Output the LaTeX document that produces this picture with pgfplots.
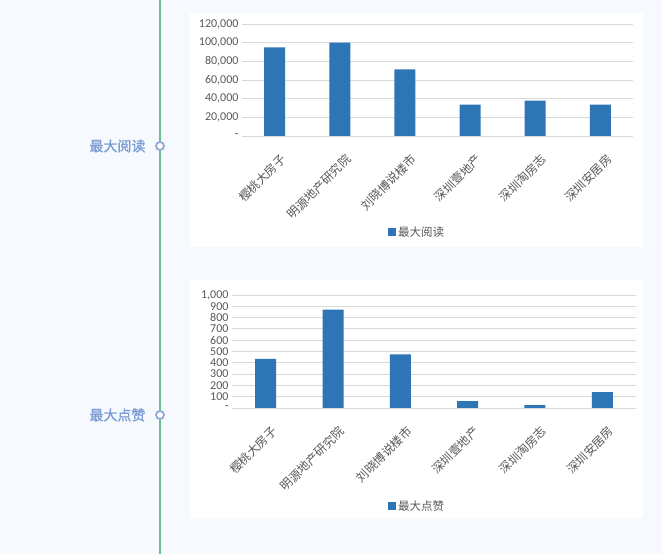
\documentclass[border=0pt]{standalone}
\usepackage{pgfplots}
\pgfplotsset{compat=1.18}
\usepackage{fontspec}
\setmainfont{Carlito}
\newfontfamily\cjk{Noto Sans CJK SC}
\newfontfamily\cjkbold[FakeBold=1.2]{Noto Sans CJK SC}
\definecolor{barblue}{HTML}{2E75B6}
\definecolor{gridc}{HTML}{D9D9D9}
\definecolor{ticktxt}{HTML}{595959}
\definecolor{bg}{HTML}{F6F9FD}
\definecolor{tl}{HTML}{6CC08B}
\definecolor{lbl}{HTML}{7B9DD5}
\definecolor{circ}{HTML}{8FA8D8}
\pgfplotsset{
  mybar/.style={
    scale only axis, xmin=-0.5, xmax=5.5, ymin=0,
    ybar, bar width=21pt,
    scaled y ticks=false,
    /pgf/number format/assume math mode=true,
    axis line style={draw=none}, major tick length=0pt,
    ymajorgrids, grid style={gridc, line width=0.8pt},
    xtick={0,...,5},
    xticklabels={樱桃大房子,明源地产研究院,刘晓博说楼市,深圳壹地产,深圳淘房志,深圳安居房},
    xticklabel style={xshift=5pt, yshift=-12pt, rotate=45, anchor=north east,
      font=\cjk\fontsize{12}{12}\selectfont, text=ticktxt},
    yticklabel style={font=\fontsize{12}{12}\selectfont, text=ticktxt},
    legend style={draw=none, fill=none, anchor=center,
      font=\cjk\fontsize{11.5}{12}\selectfont, text=ticktxt},
    legend image code/.code={\fill[barblue] (0pt,-4pt) rectangle (8pt,4pt);},
  }
}
\begin{document}
\begin{tikzpicture}[x=1pt,y=1pt]
\useasboundingbox (0,0) rectangle (662,554);
\fill[bg] (0,0) rectangle (662,554);
\fill[white] (190,307) rectangle (643,541);
\fill[white] (190,36) rectangle (643,274);
\draw[tl, line width=1.6pt] (160,0) -- (160,554);
\draw[circ, line width=1.8pt, fill=white] (160,408) circle (4pt);
\draw[circ, line width=1.8pt, fill=white] (160,139) circle (4pt);
\node[anchor=east, text=lbl, font=\cjkbold\fontsize{14}{14}\selectfont] at (149,408) {最大阅读};
\node[anchor=east, text=lbl, font=\cjkbold\fontsize{14}{14}\selectfont] at (149,139) {最大点赞};

\begin{axis}[mybar, at={(242pt,418pt)}, anchor=south west,
  width=391pt, height=112pt, ymax=120000,
  ytick={0,20000,40000,60000,80000,100000,120000},
  yticklabels={{-},{20,000},{40,000},{60,000},{80,000},{100,000},{120,000}},
  legend style={at={(0.448,-0.857)}}]
\addplot[fill=barblue, draw=none] coordinates {(0,95000) (1,100000) (2,71500) (3,33500) (4,38000) (5,33500)};
\addlegendentry{最大阅读}
\end{axis}

\begin{axis}[mybar, at={(232pt,146pt)}, anchor=south west,
  width=404pt, height=113pt, ymax=1000,
  ytick={0,100,...,1000},
  yticklabels={{-},100,200,300,400,500,600,700,800,900,{1,000}},
  legend style={at={(0.458,-0.867)}}]
\addplot[fill=barblue, draw=none] coordinates {(0,435) (1,870) (2,475) (3,60) (4,25) (5,140)};
\addlegendentry{最大点赞}
\end{axis}
\end{tikzpicture}
\end{document}
